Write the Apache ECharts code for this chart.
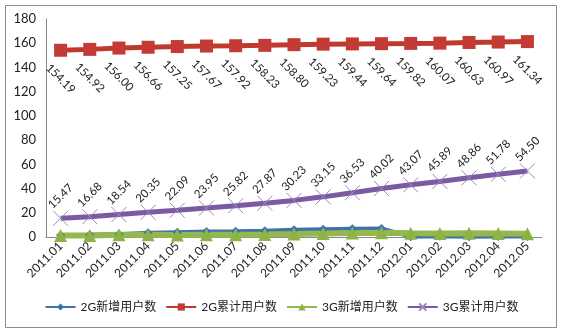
<!DOCTYPE html>
<html><head><meta charset="utf-8">
<script src="https://cdn.jsdelivr.net/npm/echarts@6/dist/echarts.min.js"></script>
<style>html,body{margin:0;padding:0;background:#fff}#c{width:563px;height:333px}</style>
</head><body><div id="c"></div>
<script>
const categories = ['2011.01','2011.02','2011.03','2011.04','2011.05','2011.06','2011.07','2011.08','2011.09','2011.10','2011.11','2011.12','2012.01','2012.02','2012.03','2012.04','2012.05'];
const g2New = [1.5, 1.8, 2.2, 3.5, 4.0, 4.5, 4.8, 5.2, 6.0, 6.5, 6.8, 7.0, 0.3, 0.6, 0.3, 0.4, 0.4];
const g2Total = [154.19,154.92,156.00,156.66,157.25,157.67,157.92,158.23,158.80,159.23,159.44,159.64,159.82,160.07,160.63,160.97,161.34];
const g3New = [1.2, 1.2, 1.9, 1.8, 1.7, 1.9, 1.9, 2.1, 2.4, 2.9, 3.4, 3.5, 3.1, 2.8, 3.0, 2.9, 2.7];
const g3Total = [15.47,16.68,18.54,20.35,22.09,23.95,25.82,27.87,30.23,33.15,36.53,40.02,43.07,45.89,48.86,51.78,54.50];
const seriesNames = ['2G新增用户数','2G累计用户数','3G新增用户数','3G累计用户数'];
const yTicks = {min: 0, max: 180, interval: 20};

const FONT = "Lato, 'Noto Sans CJK SC', sans-serif";
const chart = echarts.init(document.getElementById('c'), null, {renderer: 'canvas'});
chart.setOption({
  animation: false,
  textStyle: {fontFamily: FONT},
  graphic: [{type: 'rect', shape: {x: 5.5, y: 5.5, width: 551, height: 322}, style: {fill: 'none', stroke: '#8c8c8c', lineWidth: 1}, z: -1}],
  grid: {left: 46, right: 21, top: 19, bottom: 96},
  legend: {
    bottom: 15, left: 'center', itemWidth: 30, itemHeight: 9, itemGap: 9,
    textStyle: {fontSize: 12, color: '#222', fontFamily: FONT},
    data: seriesNames
  },
  xAxis: {
    type: 'category', data: categories, boundaryGap: true,
    axisLine: {lineStyle: {color: '#888'}},
    axisTick: {show: false},
    axisLabel: {rotate: 45, fontSize: 12, color: '#222', margin: 7, fontFamily: FONT}
  },
  yAxis: {
    type: 'value', min: yTicks.min, max: yTicks.max, interval: yTicks.interval,
    axisLine: {show: true, lineStyle: {color: '#888'}},
    axisTick: {show: false},
    splitLine: {show: false},
    axisLabel: {fontSize: 13, color: '#222', margin: 10, fontFamily: FONT}
  },
  series: [
    {name: seriesNames[0], type: 'line', data: g2New, symbol: 'diamond', symbolSize: 9,
     lineStyle: {width: 4, color: '#3e72ad'}, itemStyle: {color: '#3e72ad'}},
    {name: seriesNames[1], type: 'line', data: g2Total, symbol: 'rect', symbolSize: 13,
     lineStyle: {width: 5, color: '#c0392f'}, itemStyle: {color: '#c43a34'},
     label: {show: true, position: 'bottom', distance: 22, rotate: -45, align: 'center', verticalAlign: 'middle',
       fontSize: 11.5, color: '#222', fontFamily: FONT, formatter: p => p.value.toFixed(2)}},
    {name: seriesNames[2], type: 'line', data: g3New, symbol: 'triangle', symbolSize: 13,
     lineStyle: {width: 6, color: '#94b84e'}, itemStyle: {color: '#8db347'}},
    {name: seriesNames[3], type: 'line', data: g3Total, symbol: 'path://M0,0L10,10M10,0L0,10', symbolSize: 15,
     lineStyle: {width: 5, color: '#7a5aa0'}, itemStyle: {color: 'rgba(0,0,0,0)', borderColor: '#9a86b8', borderWidth: 1},
     label: {show: true, position: 'top', distance: 14, rotate: 45, align: 'center', verticalAlign: 'middle',
       fontSize: 11.5, color: '#222', fontFamily: FONT, formatter: p => p.value.toFixed(2)}}
  ]
});
</script></body></html>
